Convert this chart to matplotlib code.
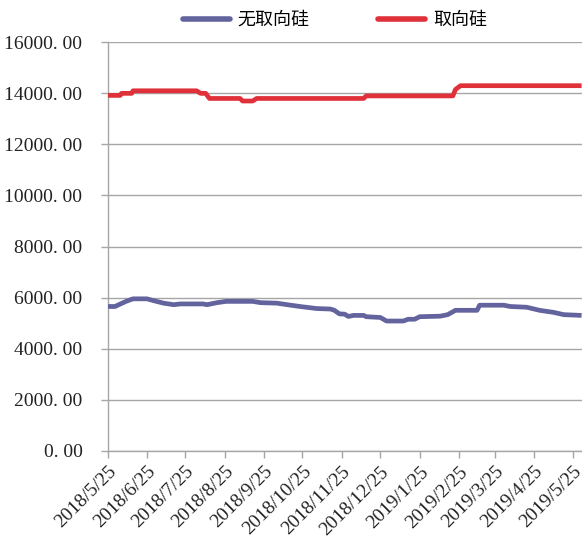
import matplotlib
matplotlib.use("Agg")
import matplotlib.pyplot as plt
import matplotlib.dates as mdates
from matplotlib.lines import Line2D
import pandas as pd

# ---- data ----
series_names = ["无取向硅", "取向硅"]

nonoriented_dates = ["2018-05-25", "2018-05-31", "2018-06-02", "2018-06-09", "2018-06-14",
                     "2018-06-25", "2018-06-30", "2018-07-08", "2018-07-16", "2018-07-21",
                     "2018-08-08", "2018-08-11", "2018-08-19", "2018-08-26", "2018-09-16",
                     "2018-09-22", "2018-10-05", "2018-10-13", "2018-10-23", "2018-11-05",
                     "2018-11-16", "2018-11-19", "2018-11-23", "2018-11-27", "2018-11-30",
                     "2018-12-04", "2018-12-12", "2018-12-14", "2018-12-25", "2018-12-30",
                     "2019-01-12", "2019-01-16", "2019-01-21", "2019-01-25", "2019-02-10",
                     "2019-02-16", "2019-02-22", "2019-03-11", "2019-03-13", "2019-04-01",
                     "2019-04-06", "2019-04-19", "2019-04-29", "2019-05-10", "2019-05-18",
                     "2019-06-01"]
nonoriented_values = [5650, 5650, 5700, 5860, 5950,
                      5950, 5880, 5780, 5720, 5750,
                      5750, 5720, 5800, 5850, 5850,
                      5800, 5780, 5720, 5650, 5570,
                      5550, 5500, 5360, 5350, 5260,
                      5300, 5300, 5250, 5220, 5080,
                      5080, 5150, 5150, 5250, 5270,
                      5330, 5500, 5500, 5700, 5700,
                      5650, 5620, 5500, 5420, 5330,
                      5300]

oriented_dates = ["2018-05-25", "2018-06-04", "2018-06-05", "2018-06-13", "2018-06-14",
                  "2018-08-03", "2018-08-06", "2018-08-10", "2018-08-13", "2018-09-06",
                  "2018-09-08", "2018-09-16", "2018-09-19", "2018-12-12", "2018-12-14",
                  "2019-02-20", "2019-02-22", "2019-02-26", "2019-06-01"]
oriented_values = [13920, 13920, 14000, 14000, 14100,
                   14100, 14000, 14000, 13800, 13800,
                   13700, 13700, 13800, 13800, 13900,
                   13900, 14150, 14300, 14300]

tick_dates = ["2018-05-25", "2018-06-25", "2018-07-25", "2018-08-25", "2018-09-25",
              "2018-10-25", "2018-11-25", "2018-12-25", "2019-01-25", "2019-02-25",
              "2019-03-25", "2019-04-25", "2019-05-25"]
tick_labels = ["2018/5/25", "2018/6/25", "2018/7/25", "2018/8/25", "2018/9/25",
               "2018/10/25", "2018/11/25", "2018/12/25", "2019/1/25", "2019/2/25",
               "2019/3/25", "2019/4/25", "2019/5/25"]
y_ticks = [0, 2000, 4000, 6000, 8000, 10000, 12000, 14000, 16000]
y_labels = ["%d. 00" % v for v in y_ticks]

colors = ["#63639E", "#E0313A"]
grid_color = "#A6A6A6"

# ---- figure ----
fig = plt.figure(figsize=(5.82, 5.36), dpi=100)
ax = fig.add_axes([107.5 / 582, 85.3 / 536, 1 - 107.5 / 582, (493.7 - 85.3) / 536])

xa = pd.to_datetime(nonoriented_dates)
xb = pd.to_datetime(oriented_dates)
ax.plot(xa, nonoriented_values, color=colors[0], lw=3.4, solid_joinstyle="round",
        solid_capstyle="butt", zorder=3)
ax.plot(xb, oriented_values, color=colors[1], lw=3.4, solid_joinstyle="round",
        solid_capstyle="butt", zorder=3)

ax.set_xlim(pd.Timestamp("2018-05-25"), pd.Timestamp("2019-06-01 08:00"))
ax.set_ylim(0, 16000)

ax.set_yticks(y_ticks)
ax.set_yticklabels(y_labels, fontfamily=["Liberation Serif", "DejaVu Serif"], fontsize=14,
                   color="#222222")
ax.set_xticks(pd.to_datetime(tick_dates))
ax.set_xticklabels(tick_labels, fontfamily=["Liberation Serif", "DejaVu Serif"], fontsize=14,
                   color="#222222", rotation=45, ha="right", rotation_mode="anchor")

ax.yaxis.grid(True, color=grid_color, lw=1.0, zorder=0)
ax.set_axisbelow(True)
for s in ["top", "right"]:
    ax.spines[s].set_visible(False)
for s in ["left", "bottom"]:
    ax.spines[s].set_color(grid_color)
    ax.spines[s].set_linewidth(1.0)
ax.tick_params(axis="both", direction="out", length=5, width=1.0, color=grid_color)
ax.tick_params(axis="y", pad=13)
ax.tick_params(axis="x", pad=4)

handles = [Line2D([], [], color=colors[0], lw=4, solid_capstyle="round"),
           Line2D([], [], color=colors[1], lw=4, solid_capstyle="round")]
fig.legend(handles, series_names, loc="center", bbox_to_anchor=(335 / 582, 1 - 20 / 536),
           ncol=2, frameon=False, prop={"family": "Noto Sans CJK SC", "size": 13},
           handlelength=2.6, handletextpad=0.45, columnspacing=3.8, borderpad=0)

fig.savefig("out.png", dpi=100)
